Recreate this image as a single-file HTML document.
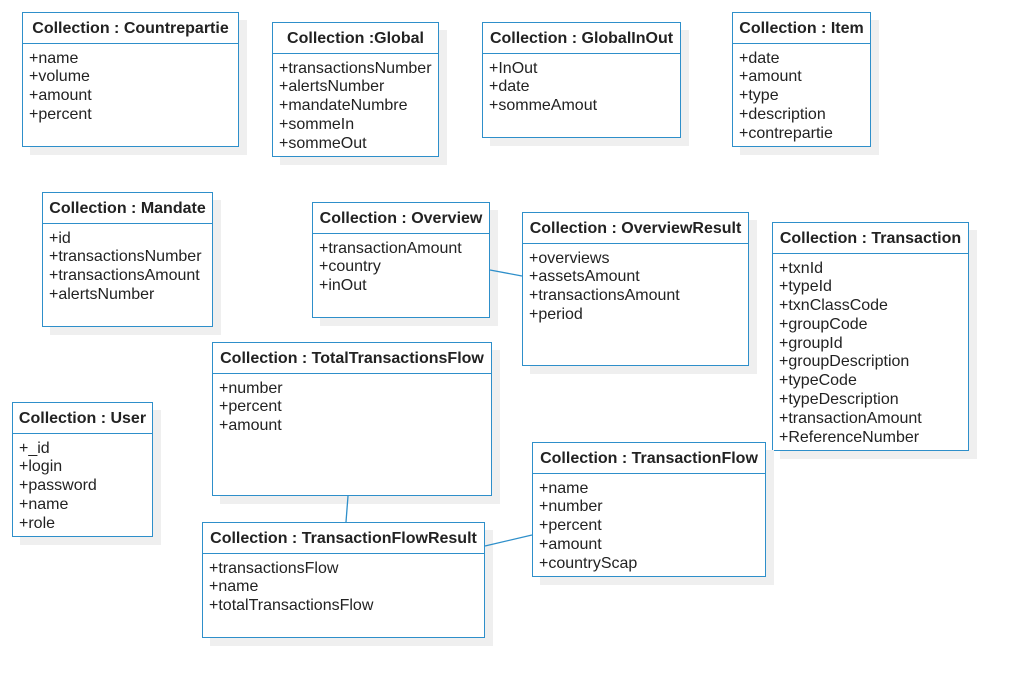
<!DOCTYPE html>
<html><head><meta charset="utf-8"><style>
body{margin:0;width:1017px;height:687px;background:#fff;position:relative;overflow:hidden;font-family:"Liberation Sans",sans-serif;}
.b{position:absolute;border:1.5px solid #2e8fca;background:#fff;box-sizing:border-box;box-shadow:8px 8px 0 #efefef;color:#222;}
.h{height:31px;border-bottom:1.5px solid #2e8fca;box-sizing:border-box;font-weight:bold;font-size:16px;line-height:32px;text-align:center;white-space:nowrap;}
.i{padding:5.5px 0 0 6px;font-size:16px;line-height:18.8px;white-space:nowrap;}
svg{position:absolute;left:0;top:0;z-index:5;}
</style></head><body>
<div class="b" style="left:22px;top:12px;width:217px;height:135px"><div class="h">Collection : Countrepartie</div><div class="i">+name<br>+volume<br>+amount<br>+percent</div></div>
<div class="b" style="left:272px;top:22px;width:167px;height:135px"><div class="h">Collection :Global</div><div class="i">+transactionsNumber<br>+alertsNumber<br>+mandateNumbre<br>+sommeIn<br>+sommeOut</div></div>
<div class="b" style="left:482px;top:22px;width:199px;height:116px"><div class="h">Collection : GlobalInOut</div><div class="i">+InOut<br>+date<br>+sommeAmout</div></div>
<div class="b" style="left:732px;top:12px;width:139px;height:135px"><div class="h">Collection : Item</div><div class="i">+date<br>+amount<br>+type<br>+description<br>+contrepartie</div></div>
<div class="b" style="left:42px;top:192px;width:171px;height:135px"><div class="h">Collection : Mandate</div><div class="i">+id<br>+transactionsNumber<br>+transactionsAmount<br>+alertsNumber</div></div>
<div class="b" style="left:312px;top:202px;width:178px;height:116px"><div class="h">Collection : Overview</div><div class="i">+transactionAmount<br>+country<br>+inOut</div></div>
<div class="b" style="left:522px;top:212px;width:227px;height:154px"><div class="h">Collection : OverviewResult</div><div class="i">+overviews<br>+assetsAmount<br>+transactionsAmount<br>+period</div></div>
<div class="b" style="left:772px;top:222px;width:197px;height:229px"><div class="h">Collection : Transaction</div><div class="i">+txnId<br>+typeId<br>+txnClassCode<br>+groupCode<br>+groupId<br>+groupDescription<br>+typeCode<br>+typeDescription<br>+transactionAmount<br>+ReferenceNumber</div></div>
<div class="b" style="left:212px;top:342px;width:280px;height:154px"><div class="h">Collection : TotalTransactionsFlow</div><div class="i">+number<br>+percent<br>+amount</div></div>
<div class="b" style="left:12px;top:402px;width:141px;height:135px"><div class="h">Collection : User</div><div class="i">+_id<br>+login<br>+password<br>+name<br>+role</div></div>
<div class="b" style="left:532px;top:442px;width:234px;height:135px"><div class="h">Collection : TransactionFlow</div><div class="i">+name<br>+number<br>+percent<br>+amount<br>+countryScap</div></div>
<div class="b" style="left:202px;top:522px;width:283px;height:116px"><div class="h">Collection : TransactionFlowResult</div><div class="i">+transactionsFlow<br>+name<br>+totalTransactionsFlow</div></div>
<svg width="1017" height="687"><g stroke="#2e8fca" stroke-width="1.3"><line x1="490" y1="270" x2="522" y2="276"/><line x1="348" y1="496" x2="346" y2="522"/><line x1="485" y1="546" x2="532" y2="535"/></g></svg>
</body></html>
